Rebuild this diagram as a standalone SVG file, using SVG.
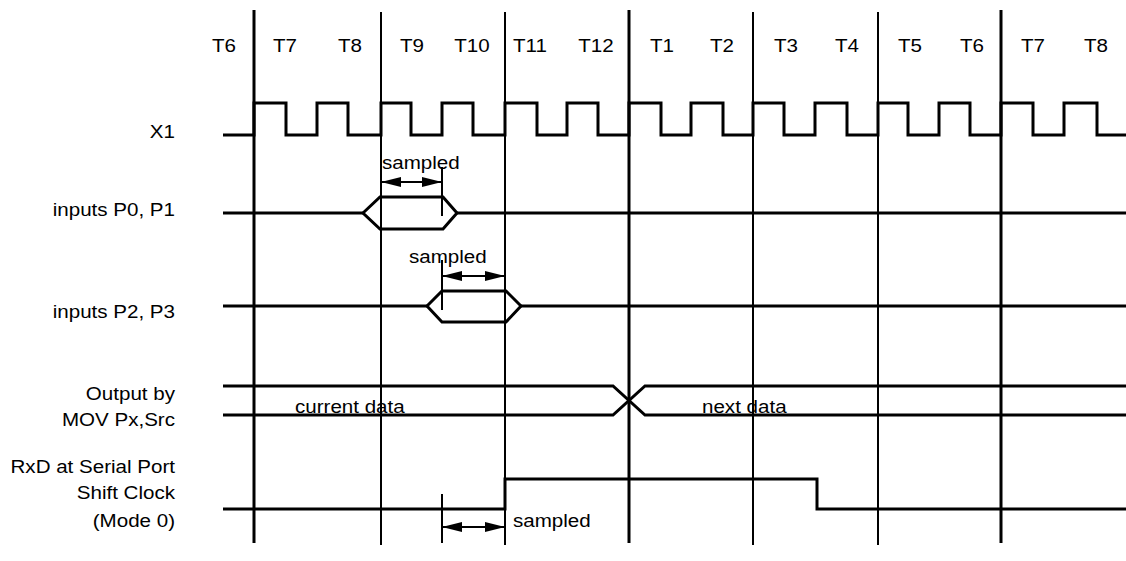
<svg xmlns="http://www.w3.org/2000/svg" width="1126" height="561" viewBox="0 0 1126 561">
<style>
text{font-family:"Liberation Sans",Arial,sans-serif;font-size:18.7px;fill:#000}
.e{text-anchor:end}
.m{text-anchor:middle}
.sig{fill:none;stroke:#000;stroke-width:3;stroke-linejoin:miter}
.gt{stroke:#000;stroke-width:3}
.gn{stroke:#000;stroke-width:2}
.dim{stroke:#000;stroke-width:2;marker-start:url(#ah);marker-end:url(#ah)}
.tick{stroke:#000;stroke-width:2}
</style>
<defs>
<marker id="ah" markerUnits="userSpaceOnUse" markerWidth="20" markerHeight="10" refX="20" refY="5" orient="auto-start-reverse">
<path d="M0,0 L20,5 L0,10 z" fill="#000"/>
</marker>
</defs>
<rect width="1126" height="561" fill="#fff"/>
<g id="grid">
<line class="gt" x1="254" y1="10" x2="254" y2="543"/>
<line class="gn" x1="381" y1="12" x2="381" y2="545"/>
<line class="gn" x1="505" y1="12" x2="505" y2="545"/>
<line class="gt" x1="629" y1="10" x2="629" y2="543"/>
<line class="gn" x1="753" y1="12" x2="753" y2="545"/>
<line class="gn" x1="878" y1="12" x2="878" y2="545"/>
<line class="gt" x1="1001" y1="10" x2="1001" y2="543"/>
</g>
<g id="tstates">
<text class="m" transform="translate(224,52) scale(1.1,1)">T6</text>
<text class="m" transform="translate(285,52) scale(1.1,1)">T7</text>
<text class="m" transform="translate(350,52) scale(1.1,1)">T8</text>
<text class="m" transform="translate(412,52) scale(1.1,1)">T9</text>
<text class="m" transform="translate(472,52) scale(1.1,1)">T10</text>
<text class="m" transform="translate(530,52) scale(1.1,1)">T11</text>
<text class="m" transform="translate(596,52) scale(1.1,1)">T12</text>
<text class="m" transform="translate(662,52) scale(1.1,1)">T1</text>
<text class="m" transform="translate(722,52) scale(1.1,1)">T2</text>
<text class="m" transform="translate(786,52) scale(1.1,1)">T3</text>
<text class="m" transform="translate(847,52) scale(1.1,1)">T4</text>
<text class="m" transform="translate(910,52) scale(1.1,1)">T5</text>
<text class="m" transform="translate(972,52) scale(1.1,1)">T6</text>
<text class="m" transform="translate(1033,52) scale(1.1,1)">T7</text>
<text class="m" transform="translate(1096,52) scale(1.1,1)">T8</text>
</g>
<g id="x1">
<text class="e" transform="translate(175,138) scale(1.1,1)">X1</text>
<path class="sig" d="M223,135 H254 V103 H286 V135 H317 V103 H348 V135 H381 V103 H411 V135 H442 V103 H473 V135 H505 V103 H537 V135 H567 V103 H598 V135 H629 V103 H661 V135 H691 V103 H723 V135 H753 V103 H784 V135 H815 V103 H847 V135 H878 V103 H908 V135 H939 V103 H970 V135 H1001 V103 H1033 V135 H1064 V103 H1097 V135 H1126"/>
</g>
<g id="p0p1">
<text class="e" transform="translate(175,216) scale(1.1,1)">inputs P0, P1</text>
<path class="sig" d="M223,213 H363 M457,213 H1126"/>
<path class="sig" d="M363,213 L380,197 H443 L457,213 L443,229 H380 Z"/>
<text transform="translate(382,169) scale(1.1,1)">sampled</text>
</g>
<g id="p2p3">
<text class="e" transform="translate(175,318) scale(1.1,1)">inputs P2, P3</text>
<path class="sig" d="M223,306 H427 M521,306 H1126"/>
<path class="sig" d="M427,306 L442,291 H506 L521,306 L506,322 H442 Z"/>
<text transform="translate(409,263) scale(1.1,1)">sampled</text>
</g>
<g id="output">
<text class="e" transform="translate(175,400) scale(1.1,1)">Output by</text>
<text class="e" transform="translate(175,426) scale(1.1,1)">MOV Px,Src</text>
<path class="sig" d="M223,386 H613 L645,415 H1126 M223,415 H613 L645,386 H1126"/>
<text transform="translate(295,413) scale(1.1,1)">current data</text>
<text transform="translate(702,413) scale(1.1,1)">next data</text>
</g>
<g id="rxd">
<text class="e" transform="translate(175,473) scale(1.1,1)">RxD at Serial Port</text>
<text class="e" transform="translate(175,499) scale(1.1,1)">Shift Clock</text>
<text class="e" transform="translate(175,527) scale(1.1,1)">(Mode 0)</text>
<path class="sig" d="M223,509 H505 V479 H817 V509 H1126"/>
<text transform="translate(513,527) scale(1.1,1)">sampled</text>
</g>
<g id="connectors">
<line class="tick" x1="442" y1="167" x2="442" y2="216"/>
<line class="dim" x1="381" y1="182" x2="442" y2="182"/>
<line class="tick" x1="442" y1="260" x2="442" y2="310"/>
<line class="dim" x1="442" y1="276" x2="505" y2="276"/>
<line class="tick" x1="442" y1="494" x2="442" y2="543"/>
<line class="dim" x1="442" y1="527" x2="505" y2="527"/>
</g>
</svg>
